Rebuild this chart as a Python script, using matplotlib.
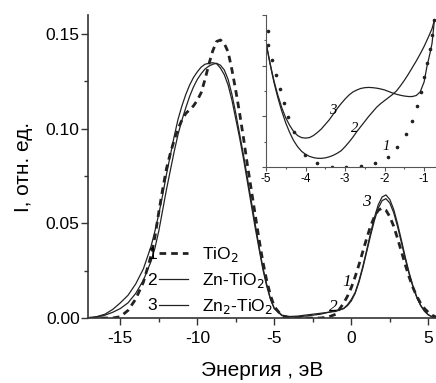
import matplotlib
matplotlib.use("Agg")
import matplotlib.pyplot as plt
from matplotlib.ticker import MultipleLocator, FormatStrFormatter

plt.rcParams['font.family'] = ['Liberation Sans', 'DejaVu Sans']
plt.rcParams['axes.unicode_minus'] = False

# main spectra, energy in eV
energy = [-17, -16.5, -16, -15.5, -15, -14.5, -14, -13.5, -13,
          -12.75, -12.5, -12.25, -12, -11.75, -11.5, -11.25, -11, -10.75, -10.5,
          -10.25, -10, -9.75, -9.5, -9.25, -9, -8.75, -8.5, -8.25, -8, -7.75,
          -7.5, -7.25, -7, -6.75, -6.5, -6.25, -6, -5.75, -5.5, -5.25, -5,
          -4.5, -4, -3.5, -3, -2.5, -2, -1.5, -1, -0.5,
          -0.25, 0, 0.25, 0.5, 0.75, 1, 1.25, 1.5, 1.75, 2, 2.25, 2.5, 2.75, 3,
          3.25, 3.5, 3.75, 4, 4.25, 4.5, 4.75, 5, 5.25, 5.5]
tio2 = [0, 0, 0, 0, 0.0007, 0.004, 0.010, 0.019, 0.033,
        0.043, 0.056, 0.068, 0.079, 0.087, 0.094, 0.100, 0.1045, 0.108, 0.110,
        0.112, 0.115, 0.119, 0.126, 0.134, 0.141, 0.146, 0.1468, 0.145, 0.1405,
        0.131, 0.120, 0.108, 0.095, 0.081, 0.068, 0.055, 0.042, 0.030, 0.020,
        0.012, 0.006,
        0.001, 0, 0, 0, 0, 0, 0.0005, 0.002, 0.0078,
        0.0115, 0.0161, 0.0218, 0.0282, 0.0352, 0.0421, 0.0485, 0.0535, 0.0569,
        0.058, 0.0569, 0.0535, 0.0485, 0.0421, 0.0352, 0.0282, 0.0218, 0.0161,
        0.0115, 0.0078, 0.005, 0.003, 0.0015, 0.0005]
zn_tio2 = [0, 0.0005, 0.0015, 0.003, 0.005, 0.008, 0.013, 0.020, 0.030,
           0.037, 0.046, 0.057, 0.068, 0.078, 0.088, 0.097, 0.1045, 0.111, 0.117,
           0.122, 0.126, 0.129, 0.1315, 0.133, 0.134, 0.1345, 0.1335, 0.131,
           0.126, 0.118, 0.108, 0.097, 0.086, 0.074, 0.062, 0.050, 0.038, 0.027,
           0.018, 0.010, 0.005,
           0.0012, 0.0005, 0.0006, 0.001, 0.0015, 0.002, 0.003, 0.004, 0.005,
           0.0065, 0.009, 0.013, 0.019, 0.0265, 0.035, 0.0435, 0.0515, 0.058,
           0.062, 0.063, 0.0607, 0.0557, 0.0484, 0.040, 0.0313, 0.0234, 0.0165,
           0.0109, 0.0066, 0.0036, 0.0017, 0.0006, 0.0001]
zn2_tio2 = [0, 0.0008, 0.002, 0.0045, 0.008, 0.012, 0.018, 0.026, 0.038,
            0.046, 0.055, 0.065, 0.076, 0.086, 0.096, 0.105, 0.112, 0.118, 0.123,
            0.127, 0.130, 0.1325, 0.134, 0.1345, 0.1348, 0.1343, 0.132, 0.1285,
            0.123, 0.115, 0.105, 0.095, 0.084, 0.072, 0.060, 0.048, 0.037, 0.026,
            0.017, 0.010, 0.005,
            0.0015, 0.0008, 0.001, 0.0015, 0.002, 0.0025, 0.003, 0.0035, 0.005,
            0.007, 0.0098, 0.0135, 0.0197, 0.0273, 0.0359, 0.0448, 0.0531, 0.0598,
            0.0639, 0.065, 0.0626, 0.0574, 0.0499, 0.0412, 0.0323, 0.0241, 0.0170,
            0.0112, 0.0068, 0.0037, 0.0017, 0.0006, 0.0001]

# inset: band-gap region (arb. units)
ins_x1 = [-4.96, -4.95, -4.85, -4.75, -4.65, -4.55, -4.45, -4.3, -4.02, -3.7,
          -3.33, -2.97, -2.6, -2.24, -1.92, -1.68, -1.46, -1.30, -1.19, -1.08,
          -1.0, -0.93, -0.85, -0.8, -0.75]
ins_y1 = [2.68, 2.4, 2.11, 1.81, 1.54, 1.26, 0.98, 0.69, 0.24, 0.08, 0.0, 0.0,
          0.01, 0.08, 0.2, 0.4, 0.65, 0.91, 1.2, 1.47, 1.77, 2.05, 2.33, 2.6, 2.9]
ins_x2 = [-5.0, -4.95, -4.9, -4.85, -4.8, -4.75, -4.7, -4.6, -4.5, -4.4, -4.3,
          -4.2, -4.1, -4.0, -3.9, -3.8, -3.7, -3.6, -3.5, -3.4, -3.3, -3.2, -3.1,
          -3.0, -2.9, -2.8, -2.7, -2.6, -2.5, -2.4, -2.3, -2.2, -2.1, -2.0, -1.9,
          -1.8, -1.7, -1.6, -1.5, -1.4, -1.3, -1.2, -1.1, -1.0, -0.9, -0.8, -0.74]
ins_y2 = [2.47, 2.25, 2.05, 1.86, 1.68, 1.52, 1.37, 1.10, 0.87, 0.68, 0.52,
          0.40, 0.31, 0.25, 0.21, 0.185, 0.172, 0.17, 0.18, 0.20, 0.23, 0.27,
          0.32, 0.40, 0.49, 0.59, 0.70, 0.80, 0.90, 1.00, 1.09, 1.18, 1.25, 1.31,
          1.37, 1.43, 1.50, 1.60, 1.71, 1.83, 1.96, 2.09, 2.23, 2.38, 2.55, 2.73,
          2.9]
ins_x3 = [-5.0, -4.95, -4.9, -4.85, -4.8, -4.75, -4.7, -4.6, -4.5, -4.4, -4.3,
          -4.2, -4.1, -4.0, -3.9, -3.8, -3.7, -3.6, -3.5, -3.4, -3.3, -3.2, -3.1,
          -3.0, -2.9, -2.8, -2.7, -2.6, -2.5, -2.4, -2.3, -2.2, -2.1, -2.0, -1.9,
          -1.8, -1.7, -1.6, -1.5, -1.4, -1.3, -1.2, -1.1, -1.0, -0.93, -0.85,
          -0.8, -0.74]
ins_y3 = [2.47, 2.26, 2.06, 1.88, 1.71, 1.56, 1.42, 1.17, 0.97, 0.82, 0.70,
          0.62, 0.58, 0.57, 0.58, 0.62, 0.68, 0.75, 0.84, 0.93, 1.04, 1.15, 1.25,
          1.34, 1.42, 1.48, 1.52, 1.55, 1.565, 1.57, 1.565, 1.555, 1.54, 1.52,
          1.49, 1.46, 1.435, 1.415, 1.40, 1.39, 1.39, 1.41, 1.48, 1.68, 1.98,
          2.25, 2.44, 2.9]

labels = ['TiO$_2$', 'Zn-TiO$_2$', 'Zn$_2$-TiO$_2$']
line_col = '#222222'
spine_col = '#333333'

fig = plt.figure(figsize=(4.36, 3.83), dpi=100)
ax = fig.add_axes([0.2018, 0.1697, 0.7982, 0.7911])

ax.plot(energy, tio2, color=line_col, lw=2.0, dashes=(2.4, 1.8), label=labels[0])
ax.plot(energy, zn_tio2, color=line_col, lw=0.9, label=labels[1])
ax.plot(energy, zn2_tio2, color=line_col, lw=0.9, label=labels[2])

ax.set_xlim(-17.1, 5.5)
ax.set_ylim(0, 0.16)
ax.xaxis.set_major_locator(MultipleLocator(5))
ax.xaxis.set_minor_locator(MultipleLocator(2.5))
ax.yaxis.set_major_locator(MultipleLocator(0.05))
ax.yaxis.set_minor_locator(MultipleLocator(0.025))
ax.yaxis.set_major_formatter(FormatStrFormatter('%.2f'))
for s in ['top', 'right']:
    ax.spines[s].set_visible(False)
for s in ['left', 'bottom']:
    ax.spines[s].set_color(spine_col)
    ax.spines[s].set_linewidth(1.2)
ax.tick_params(which='major', direction='out', length=5, width=1,
               color=spine_col, labelsize=12.5)
ax.tick_params(which='minor', direction='out', length=3, width=1, color=spine_col)
ax.tick_params(axis='y', pad=1)
ax.tick_params(axis='x', pad=4)
ax.set_xlabel('Энергия , эВ', fontsize=15, labelpad=11)
ax.set_ylabel('I, отн. ед.', fontsize=15, labelpad=9)

leg = ax.legend(loc='lower left', bbox_to_anchor=(0.205, 0.005), frameon=False,
                fontsize=12.5, handlelength=1.67, handletextpad=0.8,
                labelspacing=0.42, borderaxespad=0, borderpad=0)
for i, t in enumerate(['1', '2', '3']):
    ax.text(0.184, 0.208 - i * 0.084, t, transform=ax.transAxes, fontsize=12.5,
            ha='center', va='center')

serif_it = dict(family='Liberation Serif', style='italic', fontsize=12.5)
ax.text(1.0, 0.0615, '3', ha='center', va='center', **serif_it)
ax.text(-0.27, 0.019, '1', ha='center', va='center', **serif_it)
ax.text(-1.17, 0.006, '2', ha='center', va='center', **serif_it)

# inset
ins = fig.add_axes([0.610, 0.564, 0.390, 0.397])
ins.plot(ins_x1, ins_y1, ls='none', marker='o', ms=1.6, color=line_col)
ins.plot(ins_x2, ins_y2, color=line_col, lw=0.9)
ins.plot(ins_x3, ins_y3, color=line_col, lw=0.9)
ins.set_xlim(-5.0, -0.7)
ins.set_ylim(0, 3)
ins.xaxis.set_major_locator(MultipleLocator(1))
ins.xaxis.set_minor_locator(MultipleLocator(0.5))
ins.yaxis.set_major_locator(MultipleLocator(1))
ins.yaxis.set_minor_locator(MultipleLocator(0.5))
ins.set_yticklabels([])
ins.patch.set_alpha(0)
for s in ['top', 'right']:
    ins.spines[s].set_visible(False)
for s in ['left', 'bottom']:
    ins.spines[s].set_color('#555555')
    ins.spines[s].set_linewidth(0.8)
ins.tick_params(which='major', direction='out', length=3, width=0.8,
                color='#555555', labelsize=8.5, pad=1.5)
ins.tick_params(which='minor', direction='out', length=1.5, width=0.8, color='#555555')
ins_it = dict(family='Liberation Serif', style='italic', fontsize=10.5)
ins.text(-3.30, 1.12, '3', ha='center', va='center', **ins_it)
ins.text(-2.75, 0.76, '2', ha='center', va='center', **ins_it)
ins.text(-1.97, 0.40, '1', ha='center', va='center', **ins_it)

fig.savefig('out.png', dpi=100)
